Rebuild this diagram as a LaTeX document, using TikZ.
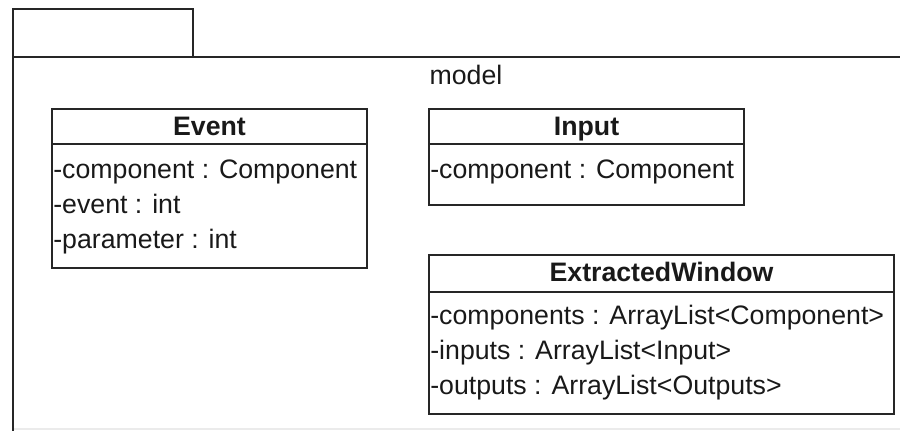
\documentclass[tikz,border=0pt]{standalone}
\usepackage{fontspec}
\setmainfont{Liberation Sans}
\tikzset{
    umlline/.style={draw=black!85,line width=1.1pt},
    classname/.style={inner sep=0pt,anchor=base,font=\fontsize{15.2pt}{18pt}\selectfont\bfseries,text=black!90},
    attr/.style={inner sep=0pt,anchor=base west,font=\fontsize{15.2pt}{18pt}\selectfont,text=black!90}
}

\begin{document}
\begin{tikzpicture}[x=0.02cm,y=-0.02cm]
            \useasboundingbox (0,0) rectangle (900,430);
            % package
            \draw[umlline] (13,57)--(13,9)--(193,9)--(193,57);
            \draw[umlline] (13,440)--(13,57)--(910,57);
            \draw[black!8,line width=0.6pt] (14,429)--(900,429);
            \node[attr,anchor=base] (pkgname) at (466,84) {model};
            % Event
            \draw[umlline] (52,109) rectangle (367,268);
            \draw[umlline] (52,144)--(367,144);
            \node[classname] (eventname) at (209.5,135.7) {Event};
            \node[attr] (eventcomp) at (53,178.5) {-component : Component};
            \node[attr] (eventevent) at (53,213.5) {-event : int};
            \node[attr] (eventparam) at (53,248.5) {-parameter : int};
            % Input
            \draw[umlline] (429,109) rectangle (744,205);
            \draw[umlline] (429,144)--(744,144);
            \node[classname] (inputname) at (586.5,135.7) {Input};
            \node[attr] (inputcomp) at (430,178.5) {-component : Component};
            % ExtractedWindow
            \draw[umlline] (429,255) rectangle (894,414);
            \draw[umlline] (429,292)--(894,292);
            \node[classname] (windowname) at (661.5,281.7) {ExtractedWindow};
            \node[attr] (windowcomps) at (430,324) {-components : ArrayList<Component>};
            \node[attr] (windowinputs) at (430,359) {-inputs : ArrayList<Input>};
            \node[attr] (windowoutputs) at (430,394) {-outputs : ArrayList<Outputs>};
        \end{tikzpicture}
\end{document}
